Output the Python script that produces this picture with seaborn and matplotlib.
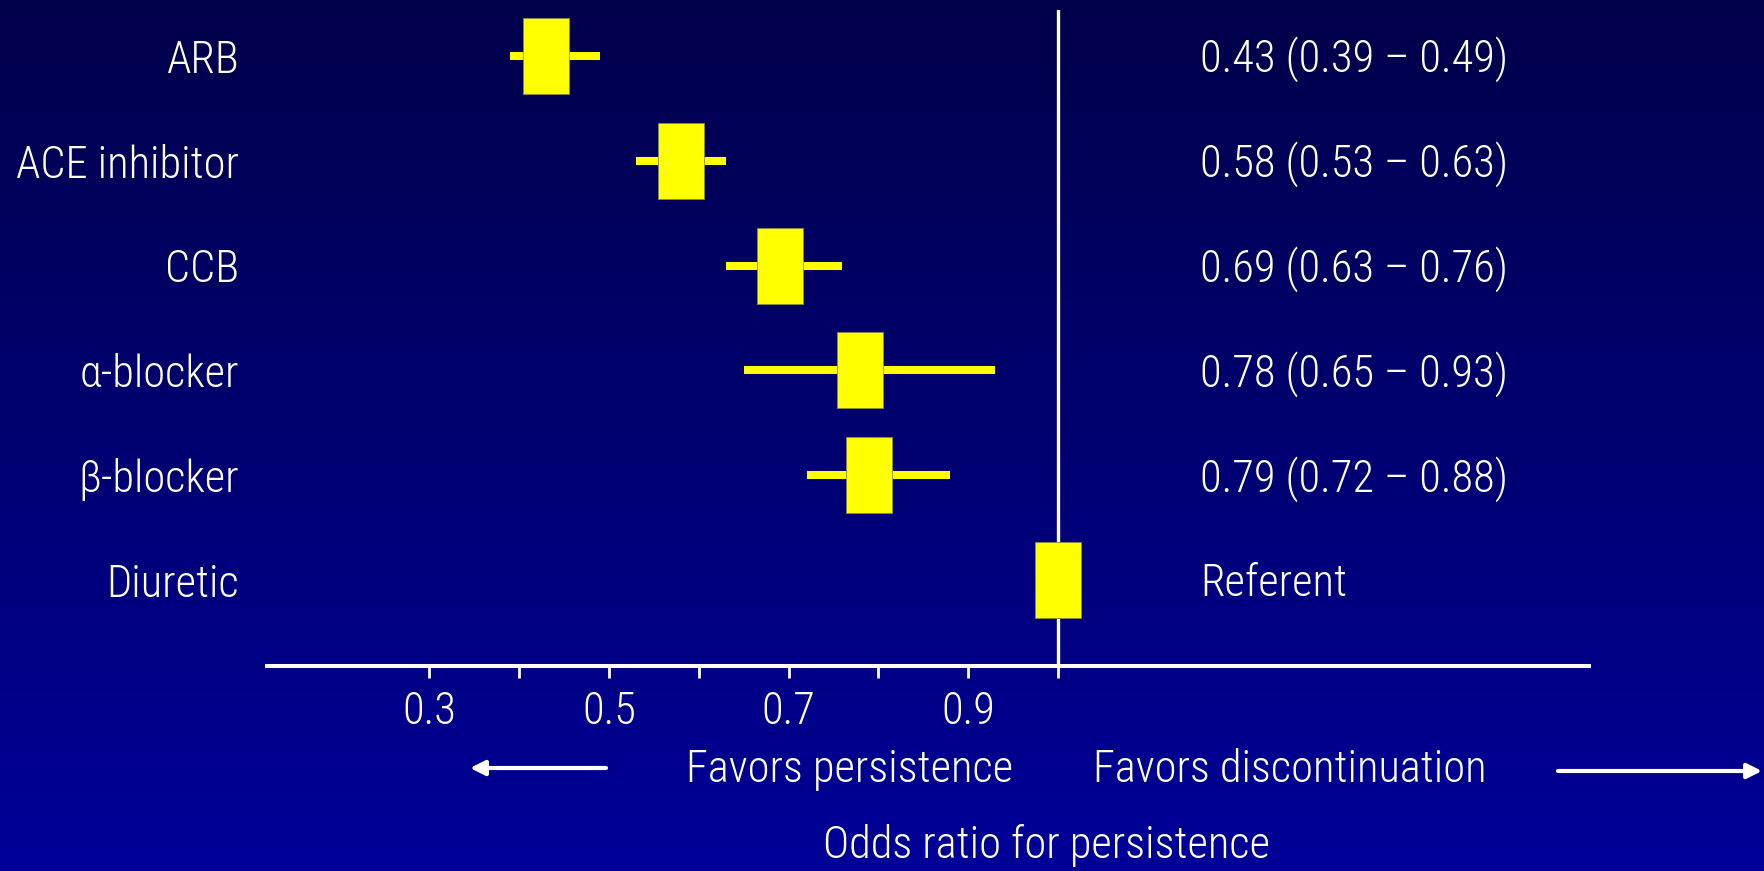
import numpy as np
import pandas as pd
import matplotlib
matplotlib.use("Agg")
import matplotlib.pyplot as plt
from matplotlib import font_manager
import seaborn as sns

# Odds ratios for persistence by antihypertensive class (diuretic = referent)
categories = ["ARB", "ACE inhibitor", "CCB", "α-blocker", "β-blocker", "Diuretic"]
odds_ratio = [0.43, 0.58, 0.69, 0.78, 0.79, 1.00]
ci_lower = [0.39, 0.53, 0.63, 0.65, 0.72, np.nan]
ci_upper = [0.49, 0.63, 0.76, 0.93, 0.88, np.nan]
tick_values = [0.3, 0.4, 0.5, 0.6, 0.7, 0.8, 0.9, 1.0]
tick_labels = ["0.3", "", "0.5", "", "0.7", "", "0.9", ""]
referent_label = "Referent"

df = pd.DataFrame({"drug": categories, "or": odds_ratio,
                   "lo": ci_lower, "hi": ci_upper})

sns.set_theme(style="white")

# prefer a narrow sans face when one is installed
narrow_names = ["Liberation Sans Narrow", "Arial Narrow", "Roboto Condensed",
                "Open Sans Condensed", "Noto Sans Condensed", "DejaVu Sans Condensed"]
installed = {f.name for f in font_manager.fontManager.ttflist}
narrow = next((n for n in narrow_names if n in installed), None)
stretch = "normal"
if narrow is None:
    cond = [f for f in font_manager.fontManager.ttflist
            if str(f.stretch) in ("condensed", "semi-condensed", "extra-condensed")
            and f.style == "normal" and f.weight in (400, "normal", "regular")
            and f.name in ("DejaVu Sans", "Noto Sans", "Roboto", "Open Sans")]
    if cond:
        narrow = cond[0].name
        stretch = str(cond[0].stretch)
if narrow is not None:
    family = [narrow, "Liberation Sans", "DejaVu Sans"]
    fs = 32
else:
    family = ["Liberation Sans", "DejaVu Sans"]
    fs = 27

# use a light face of the narrow family if there is one
light_ok = any(f.name == narrow and f.weight in (300, "light")
               for f in font_manager.fontManager.ttflist)

plt.rcParams["font.family"] = family
plt.rcParams["font.stretch"] = stretch
plt.rcParams["font.weight"] = "light" if light_ok else "normal"
plt.rcParams["text.color"] = "white"

W, H = 1765, 871
fig = plt.figure(figsize=(W / 100, H / 100), dpi=100)

# vertical navy gradient behind everything
bg = fig.add_axes([0, 0, 1, 1], zorder=-10)
top = np.array([0x00, 0x00, 0x4A]) / 255
bot = np.array([0x00, 0x00, 0x98]) / 255
t = np.linspace(0, 1, 256)[:, None]
grad = (top[None, :] * (1 - t) + bot[None, :] * t)[:, None, :]
bg.imshow(grad, aspect="auto", extent=[0, 1, 0, 1], origin="upper")
bg.set_axis_off()

ax_left, ax_right = 267 / W, 1589 / W
ax_bottom, ax_top = 1 - 666 / H, 1 - 10 / H
ax = fig.add_axes([ax_left, ax_bottom, ax_right - ax_left, ax_top - ax_bottom])
ax.patch.set_alpha(0)

yellow = "#FFFF00"

# confidence intervals
ci = df.dropna()
ax.hlines(y=ci["drug"], xmin=ci["lo"], xmax=ci["hi"], color=yellow,
          lw=5.8, capstyle="butt", zorder=3)

# point estimates as upright rectangles
box = [(-0.3, -0.5), (0.3, -0.5), (0.3, 0.5), (-0.3, 0.5), (-0.3, -0.5)]
sns.scatterplot(data=df, x="or", y="drug", marker=box, s=3000, color=yellow,
                edgecolor="#8a8a40", linewidth=0.6, zorder=4, ax=ax, legend=False)

# line of no effect
ax.axvline(1.0, color="white", lw=2.4, zorder=2)

ax.set_xlim(0.1192, 1.5913)
ax.set_ylim(5.82, -0.439)

for s in ["top", "right", "left"]:
    ax.spines[s].set_visible(False)
ax.spines["bottom"].set_color("white")
ax.spines["bottom"].set_linewidth(2.9)

ax.set_xticks(tick_values)
ax.set_xticklabels(tick_labels)
ax.tick_params(axis="x", direction="out", length=8.6, width=2.0, color="white",
               labelcolor="white", labelsize=fs, pad=9, bottom=True)
ax.tick_params(axis="y", length=0, labelcolor="white", labelsize=fs, pad=20)
ax.set_xlabel("")
ax.set_ylabel("")

# estimate text column (baseline placed so the capitals sit on the row)
ytr = ax.get_yaxis_transform()
cap_offset = 0.153 * fs / 32
for i, row in df.iterrows():
    if np.isnan(row["lo"]):
        label = referent_label
    else:
        label = f"{row['or']:.2f} ({row['lo']:.2f} – {row['hi']:.2f})"
    ax.text((1200 - 267) / (1589 - 267), i + cap_offset, label, transform=ytr,
            ha="left", va="baseline", fontsize=fs, color="white")

# direction annotations
fig.text(850 / W, 1 - 770 / H, "Favors persistence", ha="center", va="center",
         fontsize=fs, color="white")
fig.text(1290 / W, 1 - 770 / H, "Favors discontinuation", ha="center", va="center",
         fontsize=fs, color="white")
fig.text(1047 / W, 1 - 845 / H, "Odds ratio for persistence", ha="center",
         va="center", fontsize=fs, color="white")

arrow = dict(arrowstyle="-|>", lw=3, color="white", mutation_scale=22,
             shrinkA=0, shrinkB=0)
fig.add_artist(matplotlib.patches.FancyArrowPatch(
    (606 / W, 1 - 768 / H), (470 / W, 1 - 768 / H),
    transform=fig.transFigure, **arrow))
fig.add_artist(matplotlib.patches.FancyArrowPatch(
    (1558 / W, 1 - 771 / H), (1762 / W, 1 - 771 / H),
    transform=fig.transFigure, **arrow))

fig.savefig("out.png", dpi=100)
